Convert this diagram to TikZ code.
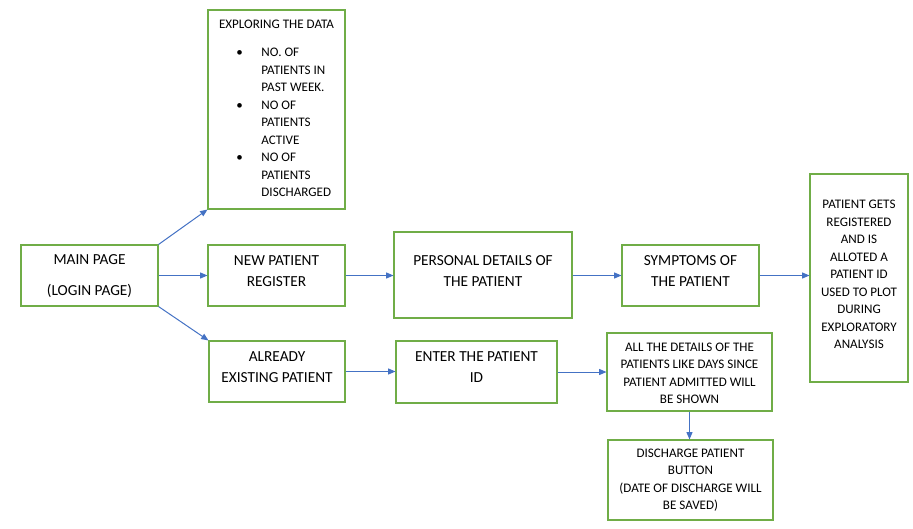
\documentclass[tikz,border=0pt]{standalone}
\usepackage{fontspec}
\setmainfont{Carlito}
\usetikzlibrary{arrows.meta}
\definecolor{boxgreen}{HTML}{70AD47}
\definecolor{arrowblue}{HTML}{4472C4}
\tikzset{
  box/.style={draw=boxgreen, line width=0.8pt, rectangle, inner sep=0pt},
  big/.style={inner sep=0pt, align=center, font=\fontsize{11.5}{15.75}\selectfont},
  small/.style={inner sep=0pt, align=center, font=\fontsize{9.8}{13.1}\selectfont},
  conn/.style={draw=arrowblue, line width=0.75pt, -{Triangle[length=5.5pt,width=4.5pt]}},
}
\newcommand{\mkbox}[5]{% name, x1, y1, x2, y2
  \node[box, minimum width={(#4-#2)*0.75pt}, minimum height={(#5-#3)*0.75pt}] (#1) at ({(#2+#4)/2},{(#3+#5)/2}) {};}
\begin{document}
\begin{tikzpicture}[x=0.75pt, y=-0.75pt]
\useasboundingbox (0,0) rectangle (913,528);
\mkbox{explore}{208}{10}{345}{209}
\mkbox{main}{21}{245}{158}{306}
\mkbox{newp}{208}{245}{345}{306}
\mkbox{already}{209}{341}{345}{402}
\mkbox{personal}{394}{232}{572}{318}
\mkbox{symptoms}{622}{245}{759}{306}
\mkbox{gets}{810}{174}{908}{382}
\mkbox{enter}{396}{341}{557}{403}
\mkbox{details}{607}{333}{772}{411}
\mkbox{discharge}{608}{440}{773}{520}

% texts
\node[big] (main-t) at (89.5,276) {MAIN PAGE\\[7pt](LOGIN PAGE)};
\node[big] (newp-t) at (276.5,271) {NEW PATIENT\\REGISTER};
\node[big] (already-t) at (277,367.5) {ALREADY\\EXISTING PATIENT};
\node[big] (personal-t) at (483,271) {PERSONAL DETAILS OF\\THE PATIENT};
\node[big] (symptoms-t) at (690.5,271) {SYMPTOMS OF\\THE PATIENT};
\node[big] (enter-t) at (476.5,367.5) {ENTER THE PATIENT\\ID};
\node[small] (gets-t) at (859,274.5) {PATIENT GETS\\REGISTERED\\AND IS\\ALLOTED A\\PATIENT ID\\USED TO PLOT\\DURING\\EXPLORATORY\\ANALYSIS};
\node[small] (details-t) at (689.5,373.5) {ALL THE DETAILS OF THE\\PATIENTS LIKE DAYS SINCE\\PATIENT ADMITTED WILL\\BE SHOWN};
\node[small] (discharge-t) at (690.5,480) {DISCHARGE PATIENT\\BUTTON\\(DATE OF DISCHARGE WILL\\BE SAVED)};
\node[small] (explore-title) at (276.5,24) {EXPLORING THE DATA};
\node[small, anchor=north west, align=left, font=\fontsize{9.8}{13.1}\selectfont] (explore-list) at (236,44.5) {%
\begin{tabular}{@{}l@{\hspace{14pt}}l@{}}
\textbullet & NO. OF\\
 & PATIENTS IN\\
 & PAST WEEK.\\
\textbullet & NO OF\\
 & PATIENTS\\
 & ACTIVE\\
\textbullet & NO OF\\
 & PATIENTS\\
 & DISCHARGED
\end{tabular}};

% connectors
\draw[conn] (main.north east) -- (explore.south west);
\draw[conn] (main.east) -- (newp.west);
\draw[conn] (main.south east) -- (already.north west);
\draw[conn] (newp.east) -- (newp.east -| personal.west);
\draw[conn] (personal.east |- symptoms.west) -- (symptoms.west);
\draw[conn] (symptoms.east) -- (symptoms.east -| gets.west);
\draw[conn] (already.east) -- (already.east -| enter.west);
\draw[conn] (enter.east) -- (enter.east -| details.west);
\draw[conn] (details.south) -- (details.south |- discharge.north);
\end{tikzpicture}
\end{document}
